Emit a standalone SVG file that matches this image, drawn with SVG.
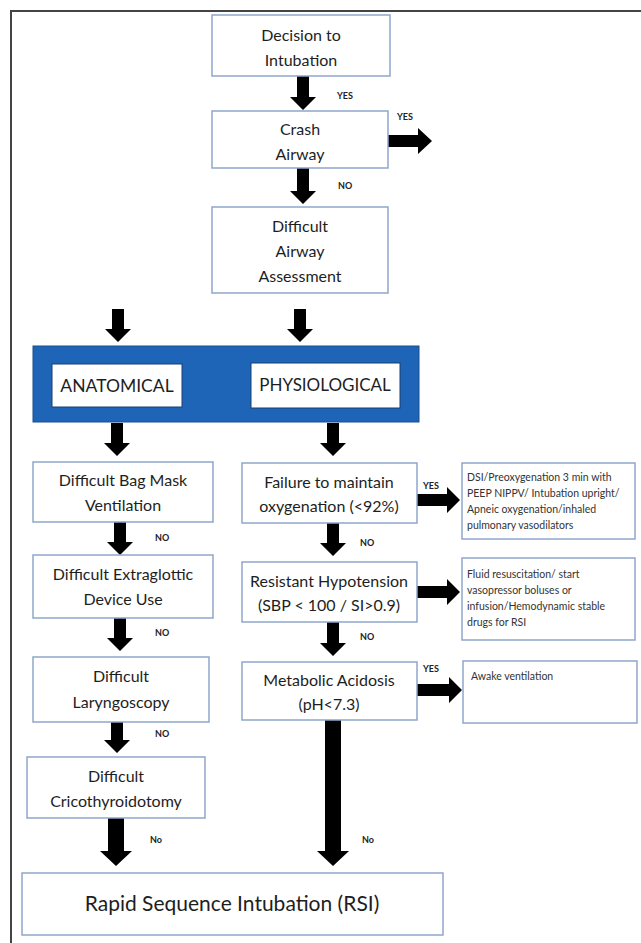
<svg xmlns="http://www.w3.org/2000/svg" width="641" height="943" viewBox="0 0 641 943">
<style>
.box{fill:#fff;stroke:#8fa6cc;stroke-width:1.5}
.t{font-family:Lato,"Open Sans",sans-serif;font-size:16px;fill:#1e1e1e;text-anchor:middle}
.s{font-family:Lato,"Open Sans",sans-serif;font-size:10.5px;fill:#333}
.lb{font-family:Lato,"Open Sans",sans-serif;font-size:9px;font-weight:bold;fill:#222}
.ar{fill:#000}
.frame{stroke:#444;stroke-width:2;fill:none}
</style>
<path class="frame" d="M11,943 V11 H641"/>
<g id="connectors">
<polygon class="ar" points="297,76 309,76 309,97 316,97 303,110 290,97 297,97"/>
<polygon class="ar" points="297,168 309,168 309,191 316,191 303,204 290,191 297,191"/>
<polygon class="ar" points="388,135 418,135 418,128 432,141 418,154 418,147 388,147"/>
<polygon class="ar" points="112,309 124,309 124,329 131,329 118,342 105,329 112,329"/>
<polygon class="ar" points="294,309 306,309 306,329 313,329 300,342 287,329 294,329"/>
<polygon class="ar" points="111,423 123,423 123,443 130,443 117,456 104,443 111,443"/>
<polygon class="ar" points="327,423 339,423 339,443 346,443 333,456 320,443 327,443"/>
<polygon class="ar" points="114,522 126,522 126,542 133,542 120,555 107,542 114,542"/>
<polygon class="ar" points="114,618 126,618 126,638 133,638 120,651 107,638 114,638"/>
<polygon class="ar" points="111,722 123,722 123,740 130,740 117,753 104,740 111,740"/>
<polygon class="ar" points="108,818 124,818 124,851 132,851 116,866 100,851 108,851"/>
<polygon class="ar" points="327,523 339,523 339,543 346,543 333,556 320,543 327,543"/>
<polygon class="ar" points="327,622 339,622 339,643 346,643 333,656 320,643 327,643"/>
<polygon class="ar" points="325,720 341,720 341,851 349,851 333,866 317,851 325,851"/>
<polygon class="ar" points="417,494 447,494 447,487 460,500 447,513 447,506 417,506"/>
<polygon class="ar" points="417,586 447,586 447,579 460,592 447,605 447,598 417,598"/>
<polygon class="ar" points="417,684 449,684 449,677 462,690 449,703 449,696 417,696"/>
<text class="lb" x="337" y="99">YES</text>
<text class="lb" x="397" y="120">YES</text>
<text class="lb" x="338" y="189">NO</text>
<text class="lb" x="155" y="541">NO</text>
<text class="lb" x="155" y="636">NO</text>
<text class="lb" x="155" y="737">NO</text>
<text class="lb" x="150" y="843">No</text>
<text class="lb" x="423" y="489">YES</text>
<text class="lb" x="360" y="546">NO</text>
<text class="lb" x="360" y="640">NO</text>
<text class="lb" x="423" y="672">YES</text>
<text class="lb" x="362" y="843">No</text>
</g>
<g id="n-decision"><rect class="box" x="212" y="15" width="178" height="61"/><text class="t" x="301" y="41">Decision to</text><text class="t" x="301" y="66">Intubation</text></g>
<g id="n-crash"><rect class="box" x="212" y="111" width="176" height="57"/><text class="t" x="300" y="135">Crash</text><text class="t" x="300" y="160">Airway</text></g>
<g id="n-assess"><rect class="box" x="212" y="207" width="176" height="86"/><text class="t" x="300" y="232">Difficult</text><text class="t" x="300" y="257">Airway</text><text class="t" x="300" y="282">Assessment</text></g>
<g id="n-band"><rect x="33" y="346" width="386" height="76" fill="#1f65b7" stroke="#1a4f8f" stroke-width="1"/>
<rect x="52" y="364" width="130" height="43" fill="#fff" stroke="#1a3f70" stroke-width="1"/><text class="t" x="117" y="392" style="font-size:17.5px">ANATOMICAL</text>
<rect x="251" y="363" width="149" height="45" fill="#fff" stroke="#1a3f70" stroke-width="1"/><text class="t" x="325" y="391" style="font-size:17px">PHYSIOLOGICAL</text></g>
<g id="n-bagmask"><rect class="box" x="33" y="462" width="180" height="60"/><text class="t" x="123" y="486">Difficult Bag Mask</text><text class="t" x="123" y="511">Ventilation</text></g>
<g id="n-extraglottic"><rect class="box" x="33" y="555" width="180" height="63"/><text class="t" x="123" y="580">Difficult Extraglottic</text><text class="t" x="123" y="605">Device Use</text></g>
<g id="n-laryngoscopy"><rect class="box" x="33" y="657" width="176" height="65"/><text class="t" x="121" y="682">Difficult</text><text class="t" x="121" y="708">Laryngoscopy</text></g>
<g id="n-crico"><rect class="box" x="27" y="757" width="178" height="61"/><text class="t" x="116" y="782">Difficult</text><text class="t" x="116" y="807">Cricothyroidotomy</text></g>
<g id="n-rsi"><rect class="box" x="22" y="873" width="421" height="62"/><text class="t" x="232" y="911" style="font-size:21px">Rapid Sequence Intubation (RSI)</text></g>
<g id="n-failure"><rect class="box" x="242" y="463" width="175" height="60"/><text class="t" x="329" y="488">Failure to maintain</text><text class="t" x="329" y="512">oxygenation (&lt;92%)</text></g>
<g id="n-resistant"><rect class="box" x="242" y="562" width="175" height="60"/><text class="t" x="329" y="587">Resistant Hypotension</text><text class="t" x="329" y="611">(SBP &lt; 100 / SI&gt;0.9)</text></g>
<g id="n-metabolic"><rect class="box" x="242" y="662" width="175" height="58"/><text class="t" x="329" y="686">Metabolic Acidosis</text><text class="t" x="329" y="710">(pH&lt;7.3)</text></g>
<g id="n-dsi"><rect class="box" x="462" y="463" width="173" height="76"/><text class="s" x="467" y="481">DSI/Preoxygenation 3 min with</text><text class="s" x="467" y="497">PEEP NIPPV/ Intubation upright/</text><text class="s" x="467" y="513">Apneic oxygenation/inhaled</text><text class="s" x="467" y="529">pulmonary vasodilators</text></g>
<g id="n-fluid"><rect class="box" x="462" y="558" width="173" height="82"/><text class="s" x="467" y="578">Fluid resuscitation/ start</text><text class="s" x="467" y="594">vasopressor boluses or</text><text class="s" x="467" y="610">infusion/Hemodynamic stable</text><text class="s" x="467" y="626">drugs for RSI</text></g>
<g id="n-awake"><rect class="box" x="463" y="661" width="174" height="62"/><text class="s" x="471" y="680">Awake ventilation</text></g>
</svg>
